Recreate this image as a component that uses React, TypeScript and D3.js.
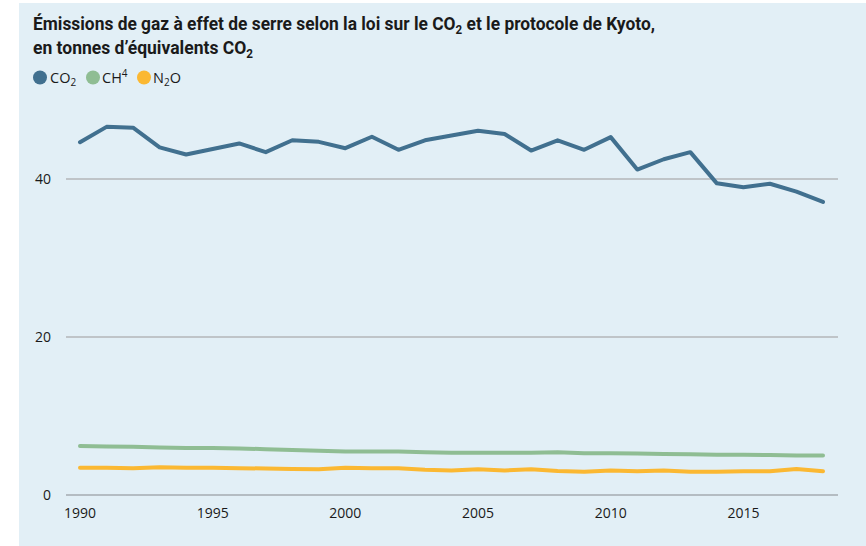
import React from "react";
import * as d3 from "d3";

const years = d3.range(1990, 2019);
const co2 = [44.65, 46.6, 46.5, 44.0, 43.1, 43.8, 44.5, 43.4, 44.9, 44.7, 43.9, 45.35, 43.7, 44.9, 45.5, 46.1, 45.7, 43.6, 44.9, 43.7, 45.3, 41.2, 42.5, 43.4, 39.45, 38.95, 39.4, 38.4, 37.1];
const ch4 = [6.2, 6.15, 6.1, 6.0, 5.95, 5.95, 5.9, 5.8, 5.7, 5.6, 5.5, 5.5, 5.5, 5.4, 5.35, 5.35, 5.35, 5.35, 5.4, 5.3, 5.3, 5.25, 5.2, 5.15, 5.1, 5.1, 5.05, 5.0, 5.0];
const n2o = [3.45, 3.45, 3.4, 3.5, 3.45, 3.45, 3.4, 3.35, 3.3, 3.25, 3.45, 3.4, 3.4, 3.2, 3.1, 3.25, 3.1, 3.25, 3.05, 2.95, 3.1, 3.0, 3.1, 2.95, 2.95, 3.0, 3.0, 3.3, 3.0];
const yTicks = [0, 20, 40];
const xTicks = [1990, 1995, 2000, 2005, 2010, 2015];

const COLORS = { co2: "#41708f", ch4: "#8fbd93", n2o: "#fbb832" };

export default function App() {
  const W = 866, H = 546;
  const x = d3.scaleLinear().domain([1990, 2018]).range([80, 823]);
  const y = d3.scaleLinear().domain([0, 40]).range([495, 179]);
  const line = d3.line<number>().x((_, i) => x(years[i])).y((d) => y(d));
  const series = [
    { key: "n2o", data: n2o, color: COLORS.n2o },
    { key: "ch4", data: ch4, color: COLORS.ch4 },
    { key: "co2", data: co2, color: COLORS.co2 },
  ];
  const tickFont = "'Open Sans', 'Noto Sans', sans-serif";
  return (
    <svg width={W} height={H} style={{ position: "absolute", left: 0, top: 0 }}>
      <rect x={0} y={0} width={W} height={H} fill="#ffffff" />
      <rect x={19} y={3} width={W - 19} height={H - 3} fill="#e2eff6" />
      <g fontFamily="Roboto, sans-serif" fontWeight={700} fill="#1a1a1a" fontSize={18}>
        <text x={33} y={30} textLength={622} lengthAdjust="spacingAndGlyphs">
          Émissions de gaz à effet de serre selon la loi sur le CO
          <tspan fontSize={12} dy={4}>2</tspan>
          <tspan dy={-4}> et le protocole de Kyoto,</tspan>
        </text>
        <text x={33} y={54} textLength={220} lengthAdjust="spacingAndGlyphs">
          en tonnes d’équivalents CO
          <tspan fontSize={12} dy={4}>2</tspan>
        </text>
      </g>
      <g fontFamily={tickFont} fontSize={14.5} fill="#1a1a1a">
        <circle cx={40} cy={77.5} r={7} fill={COLORS.co2} />
        <text x={50} y={83}>
          CO<tspan fontSize={10} dy={3}>2</tspan>
        </text>
        <circle cx={93} cy={77.5} r={7} fill={COLORS.ch4} />
        <text x={102} y={83}>
          CH<tspan fontSize={10} dy={-6}>4</tspan>
        </text>
        <circle cx={144} cy={77.5} r={7} fill={COLORS.n2o} />
        <text x={153} y={83}>
          N<tspan fontSize={10} dy={3}>2</tspan>
          <tspan dy={-3}>O</tspan>
        </text>
      </g>
      <g>
        {yTicks.map((t) => (
          <g key={t}>
            <line x1={66} x2={838} y1={y(t)} y2={y(t)} stroke={t === 0 ? "#a4abb0" : "#b3b6b9"} strokeWidth={1.5} />
            <text x={51} y={y(t) + 5} textAnchor="end" fontFamily={tickFont} fontSize={14} fill="#1a1a1a">
              {t}
            </text>
          </g>
        ))}
        {xTicks.map((t) => (
          <text key={t} x={x(t)} y={518} textAnchor="middle" fontFamily={tickFont} fontSize={14} fill="#1a1a1a">
            {t}
          </text>
        ))}
      </g>
      {series.map((s) => (
        <path key={s.key} d={line(s.data) || ""} fill="none" stroke={s.color} strokeWidth={4} strokeLinejoin="round" strokeLinecap="round" />
      ))}
    </svg>
  );
}
